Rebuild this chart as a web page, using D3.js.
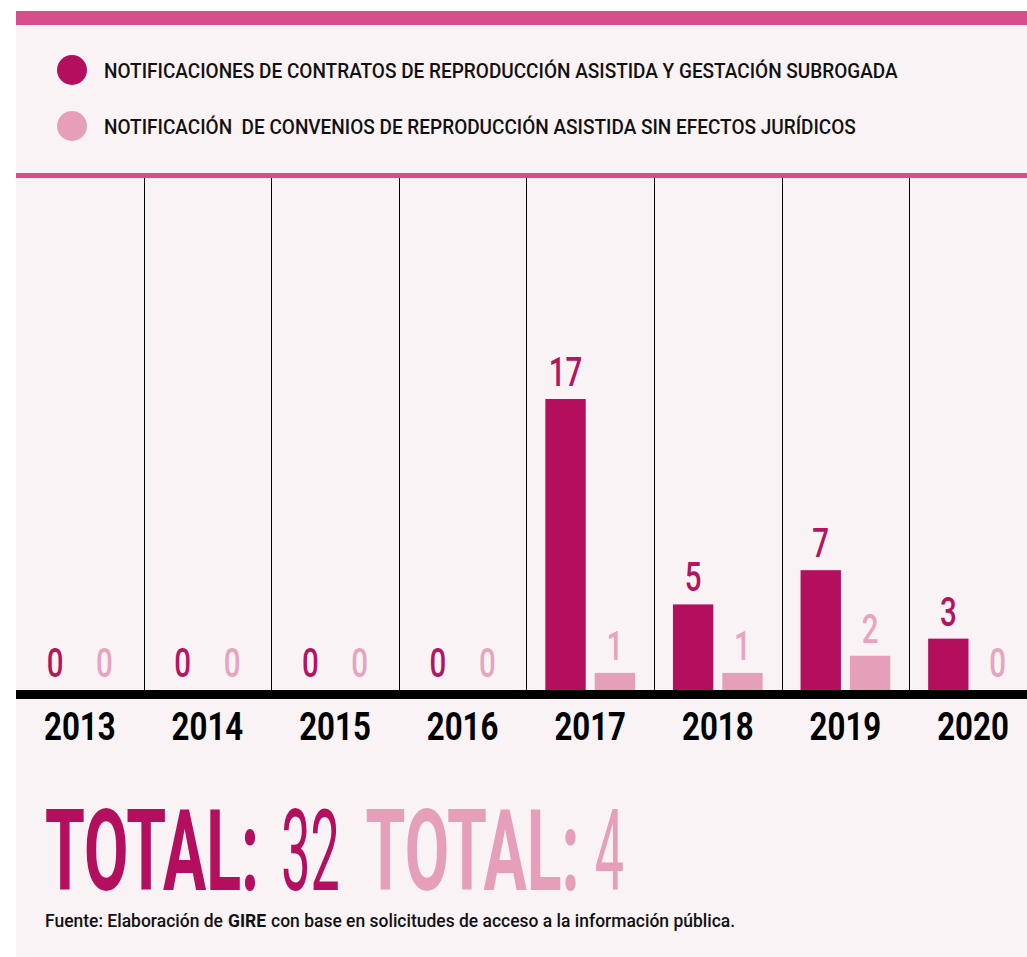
<!DOCTYPE html>
<html>
<head>
<meta charset="utf-8">
<script src="https://cdn.jsdelivr.net/npm/d3@7"></script>
<style>
  html, body { margin: 0; padding: 0; background: #ffffff; }
  svg { display: block; font-family: Roboto, "Noto Sans", sans-serif; }
  text { white-space: pre; }
</style>
</head>
<body>
<script>
// data
const years = ["2013", "2014", "2015", "2016", "2017", "2018", "2019", "2020"];
const contratos = [0, 0, 0, 0, 17, 5, 7, 3];
const convenios = [0, 0, 0, 0, 1, 1, 2, 0];
const seriesNames = [
    "NOTIFICACIONES DE CONTRATOS DE REPRODUCCIÓN ASISTIDA Y GESTACIÓN SUBROGADA",
    "NOTIFICACIÓN  DE CONVENIOS DE REPRODUCCIÓN ASISTIDA SIN EFECTOS JURÍDICOS"
];
const seriesKeys = ["contratos", "convenios"];
const colors = ["#b30f5e", "#e69fbb"];
const labelColors = ["#b5145f", "#e8a3be"];
const sourceParts = [
    {txt: "Fuente: Elaboración de", weight: 500, gap: 0},
    {txt: "GIRE", weight: 700, gap: 5},
    {txt: "con base en solicitudes de acceso a la información pública.", weight: 500, gap: 5}
];

const W = 1027, H = 957;

// squeeze text horizontally (condensed look) by scaling around its anchor
function condense(sel, k) {
    sel.each(function() {
        let t = d3.select(this);
        let x = +t.attr("x") || 0, y = +t.attr("y") || 0;
        t.attr("x", 0).attr("y", 0)
            .attr("transform", `translate(${x}, ${y}) scale(${k}, 1)`);
    });
}

// writes pieces of text one after the other on a line
function textRun(parts, x0, y, size, k) {
    let tx = x0;
    parts.forEach(p => {
        let el = svg.append("text")
            .attr("x", tx + (p.gap || 0))
            .attr("y", y)
            .attr("font-size", size)
            .attr("font-weight", p.weight)
            .attr("fill", p.color || "#111")
            .text(p.txt);
        let kk = p.k || k;
        let w = el.node().getComputedTextLength() * kk;
        el.call(condense, kk);
        tx = tx + (p.gap || 0) + w;
    });
}

const rows = years.map((y, i) => ({year: y, contratos: contratos[i], convenios: convenios[i]}));

const svg = d3.select("body")
    .append("svg")
        .attr("width", W)
        .attr("height", H);

// panel background + stripes
svg.append("rect").attr("x", 16).attr("y", 11).attr("width", W - 16).attr("height", H - 11).attr("fill", "#f9f3f6");
svg.append("rect").attr("x", 16).attr("y", 11).attr("width", W - 16).attr("height", 14).attr("fill", "#d64d8a");
svg.append("rect").attr("x", 16).attr("y", 173).attr("width", W - 16).attr("height", 5).attr("fill", "#d64d8a");

// legend
let legend = svg.selectAll("g.legend")
    .data(seriesNames)
    .enter()
        .append("g")
        .attr("class", "legend")
        .attr("transform", (d, i) => `translate(72, ${70 + i * 56})`);

legend.append("circle")
    .attr("r", 15)
    .attr("fill", (d, i) => colors[i]);

legend.append("text")
    .attr("x", 32)
    .attr("y", 7.5)
    .attr("font-size", 21)
    .attr("font-weight", 500)
    .attr("fill", "#111")
    .text(d => d)
    .call(condense, 0.905);

// scales
let xScale = d3.scaleBand()
    .domain(years)
    .range([16, 16 + 8 * 127.6]);

let x1 = d3.scaleBand()
    .domain(seriesKeys)
    .range([0, xScale.bandwidth()])
    .paddingInner(0.182)
    .paddingOuter(0.384);

let yScale = d3.scaleLinear()
    .domain([0, 17])
    .range([690, 399]);

// vertical separators between years
svg.selectAll("line.sep")
    .data(years.slice(1))
    .enter()
        .append("line")
        .attr("class", "sep")
        .attr("x1", d => Math.round(xScale(d)) + 0.5)
        .attr("x2", d => Math.round(xScale(d)) + 0.5)
        .attr("y1", 178)
        .attr("y2", 690)
        .attr("stroke", "#000")
        .attr("stroke-width", 1);

// bars
let groups = svg.selectAll("g.year")
    .data(rows)
    .enter()
        .append("g")
        .attr("class", "year")
        .attr("transform", d => `translate(${xScale(d.year)}, 0)`);

let cells = groups.selectAll("g.cell")
    .data(d => seriesKeys.map((k, j) => ({key: k, value: d[k], j: j})))
    .enter()
        .append("g")
        .attr("class", "cell");

cells.append("rect")
    .attr("x", d => x1(d.key))
    .attr("y", d => yScale(d.value))
    .attr("width", x1.bandwidth())
    .attr("height", d => yScale(0) - yScale(d.value))
    .attr("fill", d => colors[d.j]);

cells.append("text")
    .attr("x", d => x1(d.key) + x1.bandwidth() / 2)
    .attr("y", d => yScale(d.value) - 13)
    .attr("text-anchor", "middle")
    .attr("font-size", 41)
    .attr("font-weight", 500)
    .attr("fill", d => labelColors[d.j])
    .text(d => d.value)
    .call(condense, 0.72);

// baseline
svg.append("rect")
    .attr("x", 16)
    .attr("y", yScale(0))
    .attr("width", W - 16)
    .attr("height", 9)
    .attr("fill", "#000");

// year labels
let xAxis = d3.axisBottom(xScale).tickSize(0).tickPadding(0);
let axisG = svg.append("g")
    .attr("class", "xAxis")
    .attr("transform", `translate(0, 740)`)
    .call(xAxis);
axisG.select(".domain").remove();
axisG.selectAll("text")
    .attr("dy", 0)
    .attr("y", 0)
    .attr("font-size", 39)
    .attr("font-weight", 700)
    .attr("font-family", "Roboto, sans-serif")
    .attr("fill", "#000")
    .call(condense, 0.8);

// totals
textRun([
    {txt: "TOTAL:", color: colors[0], weight: 700, gap: 0, k: 0.57},
    {txt: String(d3.sum(contratos)), color: colors[0], weight: 400, gap: 22, k: 0.46},
    {txt: "TOTAL:", color: colors[1], weight: 700, gap: 26, k: 0.57},
    {txt: String(d3.sum(convenios)), color: colors[1], weight: 400, gap: 15, k: 0.46}
], 45, 890, 113, 0.5);

// source note
textRun(sourceParts, 45, 927, 19, 0.92);
</script>
</body>
</html>
